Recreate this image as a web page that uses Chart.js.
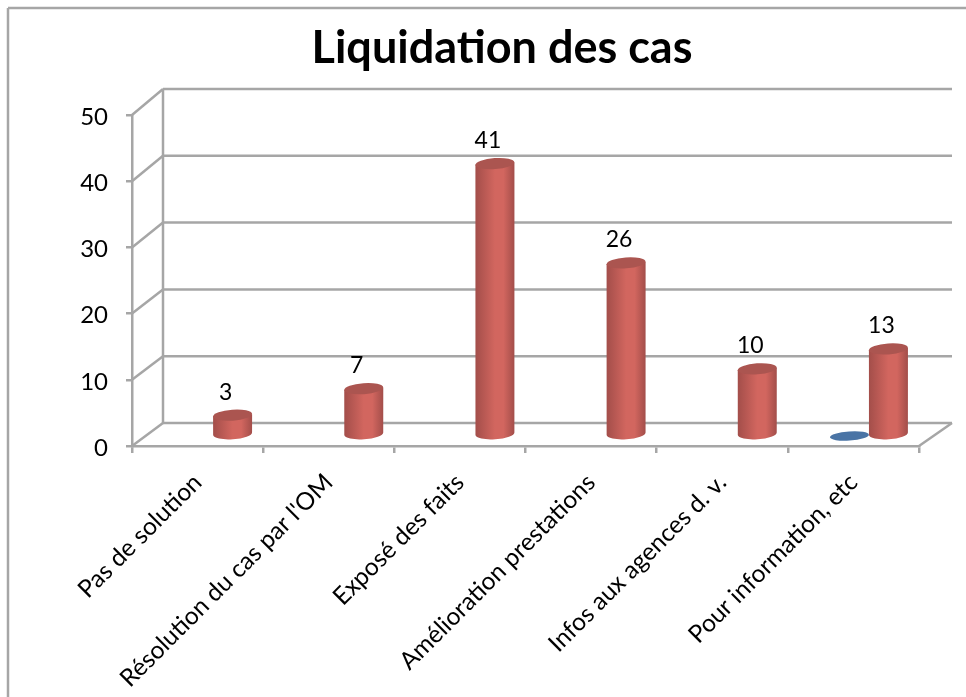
<!DOCTYPE html>
<html>
<head>
<meta charset="utf-8">
<script src="https://cdn.jsdelivr.net/npm/chart.js@4"></script>
<style>
    html, body { margin: 0; background: #fff; }
    canvas { display: block; }
</style>
</head>
<body>
<canvas id="barChartCas" width="966" height="697"></canvas>
<script>
const categories = ['Pas de solution', "Résolution du cas par l'OM", 'Exposé des faits', 'Amélioration prestations', 'Infos aux agences d. v.', 'Pour information, etc'];
const blueValues = [null, null, null, null, null, 0];
const redValues  = [3, 7, 41, 26, 10, 13];
const yTicks     = [0, 10, 20, 30, 40, 50];

const GREY = '#a6a6a6';
const FONT = 'Lato, Carlito, sans-serif';

// the bars stand in the middle of the floor, the grid on the back wall
const barShift = { x: 15.5, y: -11 };
const backX = 31;
const backY = v => -23 - v * 0.06;

const colors = [
    { top: '#4a74a5', dark: '#3b6190', light: '#4f7cb0' },
    { top: '#ab5550', dark: '#a34e4a', light: '#d2665f' },
];

function line(ctx, x1, y1, x2, y2) {
    ctx.beginPath();
    ctx.moveTo(x1, y1);
    ctx.lineTo(x2, y2);
    ctx.stroke();
}

function ellipse(ctx, x, y, rx, ry, fill) {
    ctx.fillStyle = fill;
    ctx.beginPath();
    ctx.ellipse(x, y, rx, ry, -0.07, 0, Math.PI * 2);
    ctx.fill();
}

function drawWalls(chart) {
    const ctx = chart.ctx;
    const { left, right, bottom } = chart.chartArea;
    const y = chart.scales.y;

    ctx.save();
    ctx.strokeStyle = GREY;
    ctx.lineWidth = 2.5;

    // cadre
    line(ctx, 8, 8, 966, 8);
    line(ctx, 8, 8, 8, 697);

    yTicks.forEach(v => {
        const py = y.getPixelForValue(v);
        line(ctx, left, py, left + backX, py + backY(v));
        line(ctx, left + backX, py + backY(v), right + backX + 2, py + backY(v));
    });
    line(ctx, left + backX, y.getPixelForValue(0) + backY(0), left + backX, y.getPixelForValue(50) + backY(50));
    line(ctx, right, bottom, right + backX + 2, bottom + backY(0));
    ctx.restore();
}

function drawCylinder(ctx, bar, c) {
    const x = bar.x + barShift.x;
    const top = bar.y + barShift.y;
    const base = bar.base + barShift.y;
    const rx = bar.width / 2;
    const ry = 5.5;

    if (base - top < 1) {
        ellipse(ctx, x, base + 1, rx, 4.5, c.top);
        return;
    }
    const grad = ctx.createLinearGradient(x - rx, 0, x + rx, 0);
    grad.addColorStop(0, c.dark);
    grad.addColorStop(0.5, c.light);
    grad.addColorStop(0.72, c.light);
    grad.addColorStop(1, c.dark);

    ctx.fillStyle = grad;
    ctx.beginPath();
    ctx.ellipse(x, base, rx, ry, -0.07, 0, Math.PI);
    ctx.lineTo(x - rx, top + 1);
    ctx.lineTo(x + rx, top - 1);
    ctx.closePath();
    ctx.fill();
    ellipse(ctx, x, top, rx, ry, c.top);
}

const cylinders = {
    id: 'cylinders',
    beforeDatasetsDraw(chart) {
        const ctx = chart.ctx;
        drawWalls(chart);
        chart.data.datasets.forEach((ds, i) => {
            chart.getDatasetMeta(i).data.forEach((bar, j) => {
                if (ds.data[j] === null) return;
                drawCylinder(ctx, bar, colors[i]);
                if (ds.data[j] > 0) {
                    ctx.save();
                    ctx.fillStyle = '#000';
                    ctx.font = '23px ' + FONT;
                    ctx.textAlign = 'center';
                    ctx.textBaseline = 'middle';
                    ctx.fillText(ds.data[j], bar.x + barShift.x - 7, bar.y + barShift.y - 23);
                    ctx.restore();
                }
            });
        });
        return false;
    }
};

new Chart(document.getElementById('barChartCas'), {
    type: 'bar',
    data: {
        labels: categories,
        datasets: [
            { label: 'Série 1', data: blueValues, backgroundColor: '#4a74a5' },
            { label: 'Série 2', data: redValues, backgroundColor: '#c0504d' },
        ]
    },
    options: {
        responsive: false,
        animation: false,
        layout: { padding: { left: 66, right: 28, top: 0, bottom: 0 } },
        datasets: { bar: { barPercentage: 1, categoryPercentage: 0.595 } },
        scales: {
            x: {
                afterFit: s => { s.height = 251; },
                border: { color: GREY, width: 2.5 },
                grid: { color: GREY, lineWidth: 2.5, drawOnChartArea: false, tickLength: 7 },
                ticks: {
                    color: '#000',
                    font: { family: FONT, size: 24.5 },
                    minRotation: 45,
                    maxRotation: 45,
                    autoSkip: false,
                    padding: 15,
                }
            },
            y: {
                min: 0,
                max: 50,
                afterFit: s => { s.width = 66; },
                afterBuildTicks: s => { s.ticks = yTicks.map(value => ({ value })); },
                border: { color: GREY, width: 2.5 },
                grid: { color: GREY, lineWidth: 2.5, drawOnChartArea: false, tickLength: 6 },
                ticks: {
                    color: '#000',
                    font: { family: FONT, size: 24 },
                    padding: 18,
                    labelOffset: 2,
                }
            },
            // empty right axis, only keeps the plot clear of the back wall
            yRight: {
                position: 'right',
                afterFit: s => { s.width = 19; },
                border: { display: false },
                grid: { display: false },
                ticks: { display: false },
            }
        },
        plugins: {
            legend: { display: false },
            tooltip: { enabled: false },
            title: {
                display: true,
                text: 'Liquidation des cas',
                color: '#000',
                font: { family: FONT, size: 45, weight: 'bold', lineHeight: 1.2 },
                padding: { top: 21, bottom: 40 },
            }
        }
    },
    plugins: [cylinders]
});
</script>
</body>
</html>
